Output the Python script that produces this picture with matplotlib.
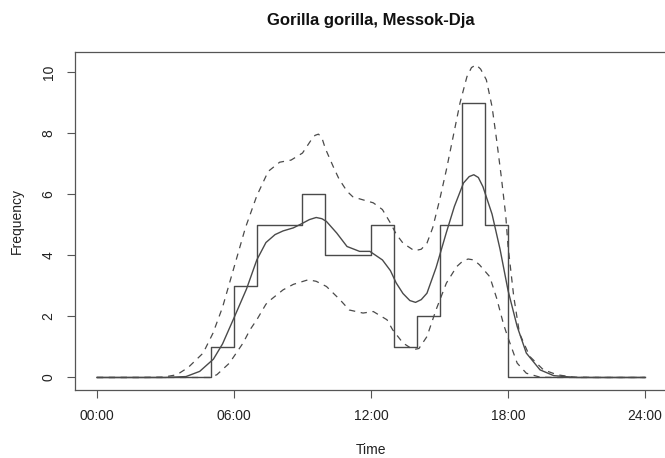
import numpy as np
import matplotlib
matplotlib.use('Agg')
import matplotlib.pyplot as plt

plt.rcParams['font.family'] = ['Liberation Sans', 'DejaVu Sans']

# hourly counts (bins 0-1, 1-2, ... 23-24)
hour_edges = list(range(25))
counts = [0, 0, 0, 0, 0, 1, 3, 5, 5, 6, 4, 4, 5, 1, 2, 5, 9, 5, 0, 0, 0, 0, 0, 0]

# smoothed activity curve
mid_t = [0, 3.0, 3.9, 4.5, 5.1, 5.5, 6.0, 6.55, 7.0, 7.4, 7.8, 8.15, 8.6, 8.95, 9.3, 9.6,
         9.85, 10.05, 10.5, 10.95, 11.5, 11.95, 12.5, 12.85, 13.1, 13.4, 13.7, 13.95,
         14.2, 14.45, 14.85, 15.3, 15.65, 16.05, 16.3, 16.5, 16.7, 16.9, 17.3, 17.65,
         18.0, 18.4, 18.8, 19.4, 20.0, 21, 24]
mid_v = [0, 0, 0.03, 0.2, 0.6, 1.1, 1.95, 2.9, 3.85, 4.42, 4.68, 4.8, 4.9, 5.03, 5.17, 5.24,
         5.2, 5.11, 4.73, 4.29, 4.13, 4.13, 3.85, 3.5, 3.1, 2.75, 2.52, 2.46,
         2.55, 2.76, 3.6, 4.75, 5.6, 6.37, 6.58, 6.64, 6.55, 6.25, 5.35, 4.2,
         2.85, 1.67, 0.8, 0.25, 0.06, 0, 0]

# upper envelope
up_t = [0, 2.0, 2.9, 3.5, 4.0, 4.65, 5.08, 5.5, 6.0, 6.5, 7.0, 7.5, 8.0, 8.5, 9.0, 9.4,
        9.55, 9.7, 9.85, 10.0, 10.35, 10.6, 10.95, 11.2, 11.5, 12.1, 12.5, 12.85, 13.1,
        13.4, 13.9, 14.2, 14.45, 14.7, 15.0, 15.3, 15.6, 15.9, 16.2, 16.4, 16.6, 16.8,
        17.05, 17.3, 17.5, 17.7, 17.9, 18.0, 18.25, 18.5, 18.95, 19.55, 20.15, 20.85,
        22, 24]
up_v = [0, 0, 0.01, 0.09, 0.33, 0.8, 1.45, 2.3, 3.6, 4.9, 5.95, 6.75, 7.05, 7.12, 7.35, 7.8,
        7.93, 7.97, 7.85, 7.5, 6.9, 6.5, 6.1, 5.92, 5.85, 5.72, 5.5, 5.06, 4.7,
        4.4, 4.15, 4.2, 4.4, 4.9, 5.8, 6.8, 7.9, 9.0, 9.85, 10.15, 10.24, 10.1,
        9.75, 8.87, 7.78, 6.6, 5.3, 4.3, 2.65, 1.45, 0.69, 0.25, 0.09, 0.01,
        0, 0]

# lower envelope
lo_t = [0, 4.0, 4.95, 5.25, 5.8, 6.4, 6.7, 7.0, 7.4, 7.6, 8.15, 8.6, 9.25, 9.6, 10.05,
        10.65, 11.05, 11.65, 12.1, 12.7, 12.95, 13.4, 13.85, 14.1, 14.45, 14.85, 15.3,
        15.75, 16.0, 16.25, 16.5, 16.75, 17.2, 17.5, 17.8, 18.0, 18.4, 18.8, 19.4, 20, 24]
lo_v = [0, 0, 0, 0.09, 0.47, 1.13, 1.56, 1.89, 2.4, 2.54, 2.87, 3.05, 3.2, 3.15, 2.98,
        2.54, 2.21, 2.11, 2.16, 1.89, 1.56, 1.13, 0.91, 0.95, 1.34, 2.22, 3.09,
        3.63, 3.8, 3.88, 3.85, 3.69, 3.3, 2.6, 1.75, 1.3, 0.47, 0.14, 0.01, 0, 0]

x_ticks = [0, 6, 12, 18, 24]
x_labels = ['00:00', '06:00', '12:00', '18:00', '24:00']
y_ticks = [0, 2, 4, 6, 8, 10]

W, H = 665, 458
fig = plt.figure(figsize=(W / 100, H / 100), dpi=100)
ax = fig.add_axes([75 / W, 68 / H, 592 / W, 337.7 / H])

col = '#4a4a4a'
ax.step(hour_edges, counts + [counts[-1]], where='post', color=col, lw=1.0)
ax.plot(mid_t, mid_v, color=col, lw=1.0)
ax.plot(up_t, up_v, color=col, lw=0.9, linestyle=(0, (5, 4.5)))
ax.plot(lo_t, lo_v, color=col, lw=0.9, linestyle=(0, (5, 4.5)))

ax.set_xlim(-0.96, 24.96)
ax.set_ylim(-0.41, 10.65)
ax.set_xticks(x_ticks)
ax.set_xticklabels(x_labels)
ax.set_yticks(y_ticks)
ax.set_yticklabels([str(v) for v in y_ticks], rotation=90, va='center')
ax.tick_params(length=6, width=0.8, color='#555555', labelsize=10, labelcolor='#222222')
ax.tick_params(axis='x', pad=8)
ax.tick_params(axis='y', pad=8)
for s in ax.spines.values():
    s.set_color('#555555')
    s.set_linewidth(0.9)

fig.text(371 / W, 1 - 20 / H, 'Gorilla gorilla, Messok-Dja', ha='center', va='center',
         fontsize=12, fontweight='bold', color='#111111')
fig.text(371 / W, 1 - 450 / H, 'Time', ha='center', va='center', fontsize=10, color='#222222')
fig.text(17 / W, 1 - 221 / H, 'Frequency', ha='center', va='center', rotation=90,
         fontsize=10, color='#222222')

fig.savefig('out.png', dpi=100)
